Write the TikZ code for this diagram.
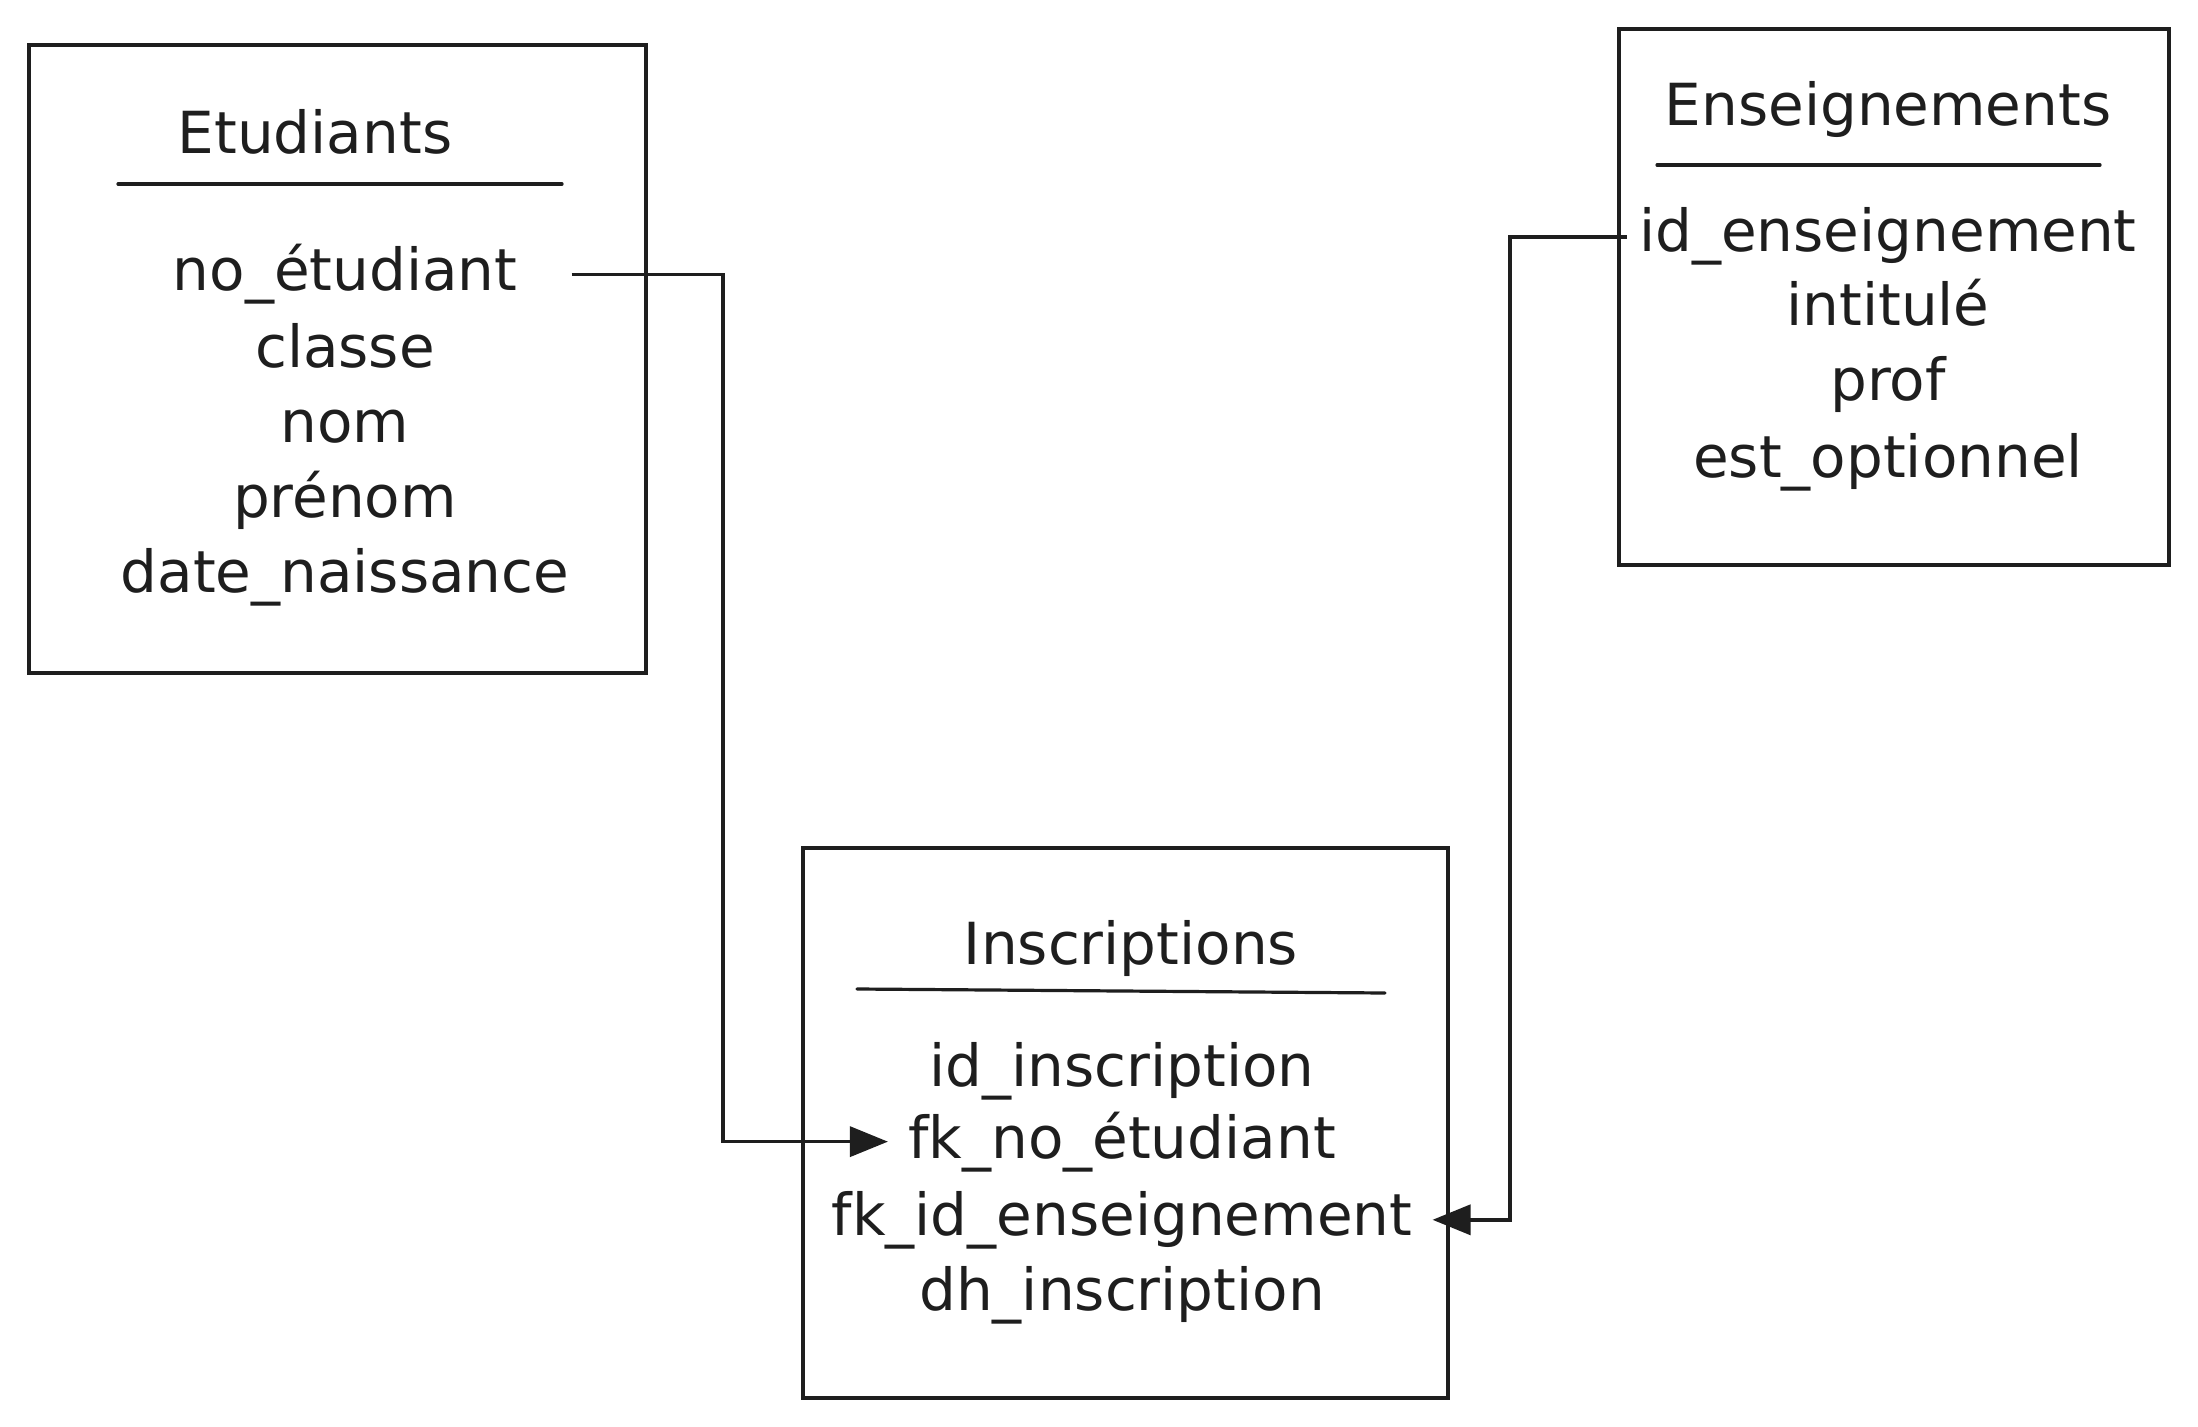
\documentclass[tikz,border=0pt]{standalone}
\usepackage{fontspec}
\setmainfont{DejaVu Sans}
\usetikzlibrary{arrows.meta}
\definecolor{ink}{HTML}{1E1E1E}
\begin{document}
\begin{tikzpicture}[x=0.5pt,y=-0.5pt,
  box/.style={draw=ink, line width=1.8pt, rectangle, inner sep=0pt},
  txt/.style={anchor=base, font=\fontsize{29}{35}\selectfont, text=ink, inner sep=0pt},
  rule/.style={draw=ink, line width=1.6pt, line cap=round},
  fk/.style={draw=ink, line width=1.8pt, -{Triangle[length=19pt,width=15pt]}}]
\useasboundingbox[fill=white] (0,0) rectangle (2198,1427);

% ---------- Etudiants ----------
\node[box, minimum width=308.5pt, minimum height=314pt] (etu) at (337.5,359) {};
\node[txt] (etuT) at (315,154) {Etudiants};
\draw[rule] (118,184) -- (562,184);
\node[txt] (e1) at (345,291) {no\_étudiant};
\node[txt] (e2) at (345,368) {classe};
\node[txt] (e3) at (345,443) {nom};
\node[txt] (e4) at (345,517) {prénom};
\node[txt] (e5) at (345,592) {date\_naissance};

% ---------- Enseignements ----------
\node[box, minimum width=275pt, minimum height=268pt] (ens) at (1894,297) {};
\node[txt] (ensT) at (1888,126) {Enseignements};
\draw[rule] (1657,165) -- (2100,165);
\node[txt] (n1) at (1888,252) {id\_enseignement};
\node[txt] (n2) at (1888,326) {intitulé};
\node[txt] (n3) at (1888,401) {prof};
\node[txt] (n4) at (1888,478) {est\_optionnel};

% ---------- Inscriptions ----------
\node[box, minimum width=322.5pt, minimum height=275pt] (ins) at (1125.5,1123) {};
\node[txt] (insT) at (1131,964) {Inscriptions};
\draw[rule] (857,989) -- (1385,993);
\node[txt] (i1) at (1122,1086) {id\_inscription};
\node[txt] (i2) at (1122,1158) {fk\_no\_étudiant};
\node[txt] (i3) at (1122,1235) {fk\_id\_enseignement};
\node[txt] (i4) at (1122,1310) {dh\_inscription};

% ---------- connectors ----------
\coordinate (k1) at (723,0);
\coordinate (k2) at (1510,0);
\coordinate (s1) at ([xshift=27pt]e1.east);
\coordinate (t1) at ([xshift=-10pt]i2.west);
\draw[fk] (s1) -- (s1 -| k1) -- (k1 |- t1) -- (t1);
\coordinate (s2) at ([xshift=-6pt]n1.west);
\coordinate (t2) at ([xshift=10pt]i3.east);
\draw[fk] (s2) -- (s2 -| k2) -- (k2 |- t2) -- (t2);
\end{tikzpicture}
\end{document}
